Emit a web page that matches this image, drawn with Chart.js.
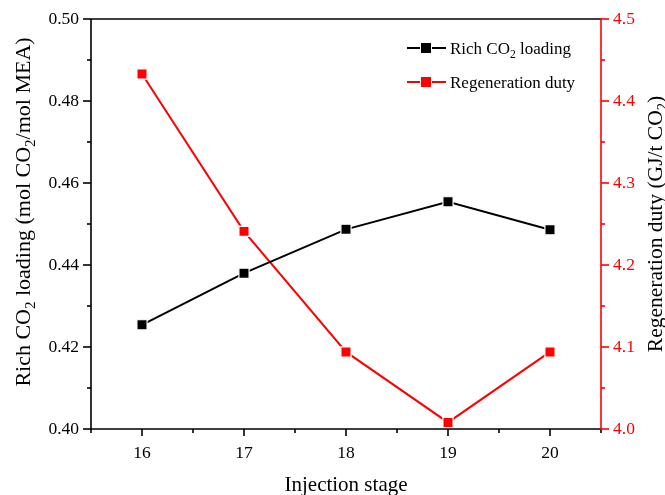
<!DOCTYPE html>
<html>
<head>
<meta charset="utf-8">
<title>Rich CO2 loading and regeneration duty vs injection stage</title>
<script src="https://cdn.jsdelivr.net/npm/chart.js@4/dist/chart.umd.min.js"></script>
<style>
  html, body { margin: 0; padding: 0; background: #ffffff; }
  #wrap { width: 665px; height: 495px; position: relative; }
</style>
</head>
<body>
<div id="wrap"><canvas id="chart" width="665" height="495"></canvas></div>
<script>
// Injection stages (x values)
const stages = [16, 17, 18, 19, 20];
// Rich CO2 loading, mol CO2 / mol MEA (left axis)
const richLoading = [0.4254, 0.4380, 0.4487, 0.4554, 0.4486];
// Regeneration duty, GJ / t CO2 (right axis)
const regenDuty = [4.433, 4.241, 4.094, 4.008, 4.094];

const FONT = '"Liberation Serif", "Times New Roman", serif';
const RED = '#ff0000';
Chart.defaults.font.family = FONT;

// Draws a run of text pieces, with pieces flagged sub rendered as subscripts.
function richText(ctx, parts, x, y, size, align) {
  const subSize = size * 0.68;
  let total = 0;
  parts.forEach(p => {
    ctx.font = (p.sub ? subSize : size) + 'px ' + FONT;
    p.w = ctx.measureText(p.t).width;
    total += p.w;
  });
  let cx = align === 'center' ? x - total / 2 : x;
  ctx.textBaseline = 'alphabetic';
  ctx.textAlign = 'left';
  parts.forEach(p => {
    ctx.font = (p.sub ? subSize : size) + 'px ' + FONT;
    ctx.fillText(p.t, cx, p.sub ? y + size * 0.22 : y);
    cx += p.w;
  });
}

const frame = {
  id: 'frame',
  afterDraw(chart) {
    const ctx = chart.ctx;
    const a = chart.chartArea;
    const sx = chart.scales.x, sy = chart.scales.y, sy2 = chart.scales.y2;
    ctx.save();
    ctx.lineWidth = 1.6;
    ctx.lineCap = 'butt';

    // x-axis tick marks (downward)
    ctx.strokeStyle = '#000';
    sx.ticks.forEach((t, i) => {
      const px = sx.getPixelForTick(i);
      const len = Number.isInteger(Math.round(t.value * 100) / 100) ? 7 : 4;
      ctx.beginPath(); ctx.moveTo(px, a.bottom); ctx.lineTo(px, a.bottom + len); ctx.stroke();
    });
    // left axis tick marks (leftward)
    sy.ticks.forEach((t, i) => {
      const py = sy.getPixelForTick(i);
      const len = Math.round(t.value * 100) % 2 === 0 ? 8 : 4;
      ctx.beginPath(); ctx.moveTo(a.left, py); ctx.lineTo(a.left - len, py); ctx.stroke();
    });
    // frame: left, bottom, top
    ctx.beginPath();
    ctx.moveTo(a.left, a.top); ctx.lineTo(a.left, a.bottom);
    ctx.moveTo(a.left - 0.8, a.bottom); ctx.lineTo(a.right, a.bottom);
    ctx.moveTo(a.left, a.top); ctx.lineTo(a.right, a.top);
    ctx.stroke();

    // right axis in red
    ctx.strokeStyle = RED;
    sy2.ticks.forEach((t, i) => {
      const py = sy2.getPixelForTick(i);
      const len = Math.round(t.value * 100) % 10 === 0 ? 8 : 4;
      ctx.beginPath(); ctx.moveTo(a.right, py); ctx.lineTo(a.right + len, py); ctx.stroke();
    });
    ctx.beginPath(); ctx.moveTo(a.right, a.top - 0.8); ctx.lineTo(a.right, a.bottom + 0.8); ctx.stroke();

    // axis titles
    const midY = (a.top + a.bottom) / 2;
    ctx.fillStyle = '#000';
    ctx.font = '21px ' + FONT;
    ctx.textAlign = 'center';
    ctx.textBaseline = 'alphabetic';
    ctx.fillText('Injection stage', (a.left + a.right) / 2, 491);

    ctx.save();
    ctx.translate(30, midY - 12);
    ctx.rotate(-Math.PI / 2);
    richText(ctx, [
      { t: 'Rich CO' }, { t: '2', sub: true }, { t: ' loading (mol CO' },
      { t: '2', sub: true }, { t: '/mol MEA)' }
    ], 0, 0, 22, 'center');
    ctx.restore();

    ctx.save();
    ctx.translate(662, midY);
    ctx.rotate(-Math.PI / 2);
    richText(ctx, [
      { t: 'Regeneration duty (GJ/t CO' }, { t: '2', sub: true }, { t: ')' }
    ], 0, 0, 21.5, 'center');
    ctx.restore();

    // legend
    const rows = [
      { color: '#000', y: 48, parts: [{ t: 'Rich CO' }, { t: '2', sub: true }, { t: ' loading' }] },
      { color: RED, y: 82, parts: [{ t: 'Regeneration duty' }] }
    ];
    rows.forEach(r => {
      ctx.strokeStyle = r.color;
      ctx.lineWidth = 2;
      ctx.beginPath(); ctx.moveTo(407, r.y); ctx.lineTo(420, r.y); ctx.moveTo(432, r.y); ctx.lineTo(446, r.y); ctx.stroke();
      ctx.fillStyle = r.color;
      ctx.fillRect(421, r.y - 5, 10, 10);
      ctx.fillStyle = '#000';
      richText(ctx, r.parts, 450, r.y + 6, 17, 'left');
    });
    ctx.restore();
  }
};

const pts = (ys) => stages.map((x, i) => ({ x, y: ys[i] }));

new Chart(document.getElementById('chart'), {
  type: 'line',
  data: {
    datasets: [
      {
        label: 'Rich CO2 loading',
        data: pts(richLoading),
        yAxisID: 'y',
        borderColor: '#000',
        backgroundColor: '#000',
        borderWidth: 2,
        pointStyle: 'rect',
        pointRadius: 7.2,
        pointBorderColor: '#ffffff',
        pointBorderWidth: 1.2,
        tension: 0
      },
      {
        label: 'Regeneration duty',
        data: pts(regenDuty),
        yAxisID: 'y2',
        borderColor: RED,
        backgroundColor: RED,
        borderWidth: 2,
        pointStyle: 'rect',
        pointRadius: 7.2,
        pointBorderColor: '#ffffff',
        pointBorderWidth: 1.2,
        tension: 0
      }
    ]
  },
  options: {
    responsive: false,
    animation: false,
    devicePixelRatio: 1,
    layout: { padding: { top: 19, left: 0, right: 0, bottom: 0 } },
    plugins: { legend: { display: false }, tooltip: { enabled: false }, title: { display: false } },
    scales: {
      x: {
        type: 'linear',
        min: 15.5, max: 20.5,
        grid: { display: false, tickLength: 8 },
        border: { display: false },
        afterFit: s => { s.height = 66; },
        ticks: {
          stepSize: 0.5,
          autoSkip: false,
          maxRotation: 0,
          padding: 6,
          color: '#000',
          font: { family: FONT, size: 17.5 },
          callback: v => Number.isInteger(v) ? String(v) : ''
        }
      },
      y: {
        position: 'left',
        min: 0.40, max: 0.50,
        grid: { display: false, tickLength: 8 },
        border: { display: false },
        afterFit: s => { s.width = 91; },
        ticks: {
          stepSize: 0.01,
          padding: 4,
          color: '#000',
          font: { family: FONT, size: 17.5 },
          callback: v => Math.round(v * 100) % 2 === 0 ? v.toFixed(2) : ''
        }
      },
      y2: {
        position: 'right',
        min: 4.0, max: 4.5,
        grid: { display: false, tickLength: 8 },
        border: { display: false },
        afterFit: s => { s.width = 64; },
        ticks: {
          stepSize: 0.05,
          padding: 4,
          color: RED,
          font: { family: FONT, size: 17.5 },
          callback: v => Math.round(v * 100) % 10 === 0 ? v.toFixed(1) : ''
        }
      }
    }
  },
  plugins: [frame]
});
</script>
</body>
</html>
